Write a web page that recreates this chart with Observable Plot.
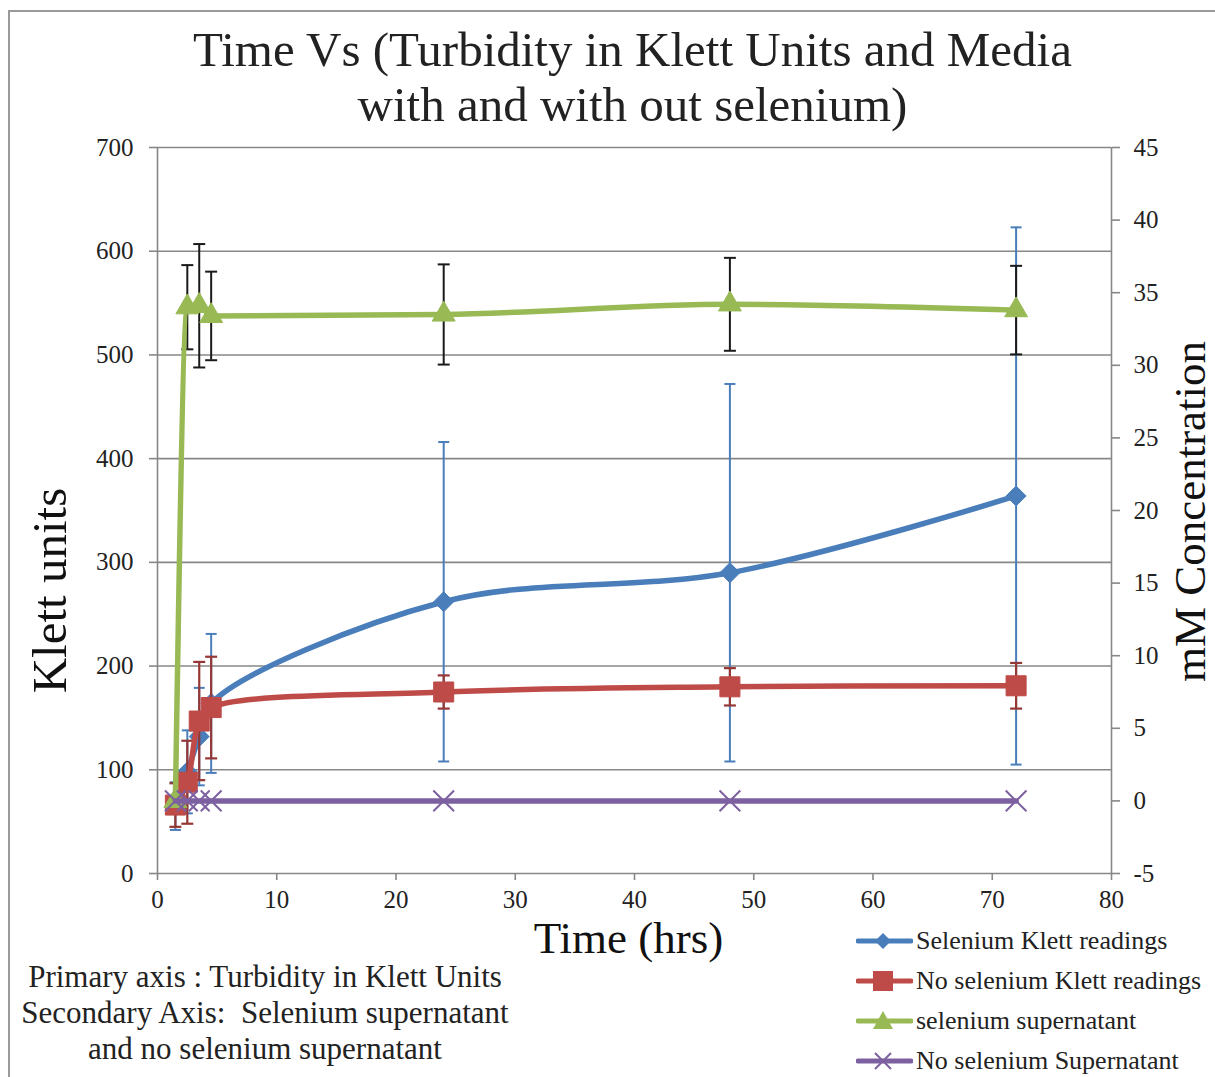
<!DOCTYPE html>
<html>
<head>
<meta charset="utf-8">
<script src="https://cdn.jsdelivr.net/npm/d3@7"></script>
<script src="https://cdn.jsdelivr.net/npm/@observablehq/plot@0.6"></script>
<style>
  html, body { margin: 0; padding: 0; background: #fff; }
  #wrap { position: relative; width: 1215px; height: 1077px; overflow: hidden; background: #fff;
          font-family: "Liberation Serif", "Times New Roman", serif; color: #222; }
  #frame { position: absolute; left: 8px; top: 10px; width: 1300px; height: 1200px;
           border-top: 2px solid #9a9a9a; border-left: 2px solid #9a9a9a; box-sizing: border-box; }
  #title { position: absolute; left: 30px; width: 1205px; top: 22px; text-align: center;
           font-size: 49px; line-height: 55px; }
  #chart { position: absolute; left: 0; top: 128px; }
  #caption { position: absolute; left: 0px; width: 530px; top: 959px; text-align: center;
             font-size: 31px; line-height: 36px; white-space: nowrap; }
  #legend { position: absolute; left: 856px; top: 921px; font-size: 26px; }
  #legend .row { height: 40px; display: flex; align-items: center; white-space: nowrap; }
  #legend svg { margin-right: 3px; }
</style>
</head>
<body>
<div id="wrap">
  <div id="frame"></div>
  <div id="title">Time Vs (Turbidity in Klett Units and Media<br>with and with out selenium)</div>
  <div id="chart"></div>
  <div id="caption">Primary axis : Turbidity in Klett Units<br>Secondary Axis:&nbsp; Selenium supernatant<br>and no selenium supernatant</div>
  <div id="legend"></div>
</div>
<script>
// ---- data ----
const times = [1.5, 2.5, 3.5, 4.5, 24, 48, 72];
// primary axis: Klett units
const seleniumKlett = [65, 98, 132, 164, 262, 290, 364];
const seleniumKlettErr = [23, 40, 47, 67, 154, 182, 259];
const noSeleniumKlett = [66, 88, 147, 160, 175, 180, 181];
const noSeleniumKlettErr = [21, 40, 57, 49, 16, 18, 22];
// secondary axis: mM concentration
const seleniumSuper = [0, 34.0, 34.1, 33.4, 33.5, 34.2, 33.8];
const seleniumSuperErr = [0, 2.9, 4.25, 3.05, 3.45, 3.2, 3.05];
const noSeleniumSuper = [0, 0, 0, 0, 0, 0, 0];

const xTicks = [0, 10, 20, 30, 40, 50, 60, 70, 80];
const leftTicks = [0, 100, 200, 300, 400, 500, 600, 700];
const rightTicks = [-5, 0, 5, 10, 15, 20, 25, 30, 35, 40, 45];

const seriesNames = ["Selenium Klett readings", "No selenium Klett readings", "selenium supernatant", "No selenium Supernatant"];
const colors = ["#4A7EBB", "#BE4B48", "#98B954", "#7D60A0"];
const errColors = ["#4A7EBB", "#953735", "#1a1a1a"];

// secondary axis [-5,45] mapped onto primary [0,700]
const toLeft = v => (v + 5) * 14;

const rows = (vals, errs, secondary) => times.map((t, i) => {
  const f = secondary ? toLeft : (v => v);
  const e = errs ? errs[i] : 0;
  return {t, y: f(vals[i]), lo: f(vals[i] - e), hi: f(vals[i] + e), e};
});
const blue = rows(seleniumKlett, seleniumKlettErr, false);
const red = rows(noSeleniumKlett, noSeleniumKlettErr, false);
const green = rows(seleniumSuper, seleniumSuperErr, true);
const purple = rows(noSeleniumSuper, null, true);

const cap = hw => ({draw(ctx) { ctx.moveTo(-hw, 0); ctx.lineTo(hw, 0); }});

function errMarks(data, color, width, hw) {
  const d = data.filter(r => r.e > 0);
  return [
    Plot.ruleX(d, {x: "t", y1: "lo", y2: "hi", stroke: color, strokeWidth: width}),
    Plot.dot(d, {x: "t", y: "hi", symbol: cap(hw), r: 4, stroke: color, strokeWidth: width}),
    Plot.dot(d, {x: "t", y: "lo", symbol: cap(hw), r: 4, stroke: color, strokeWidth: width})
  ];
}
const lineOpts = (c, curve) => ({x: "t", y: "y", stroke: c, strokeWidth: 5.5, curve: curve || "catmull-rom"});

const gray = "#878787";
const chart = Plot.plot({
  width: 1215,
  height: 949,
  marginTop: 19,
  marginBottom: 204,
  marginLeft: 157,
  marginRight: 104,
  x: {domain: [0, 80]},
  y: {domain: [0, 700]},
  style: {fontFamily: "'Liberation Serif', 'Times New Roman', serif", fontSize: "25px", color: "#222", background: "transparent"},
  marks: [
    Plot.gridY(leftTicks, {stroke: gray, strokeOpacity: 1, strokeWidth: 1.6}),
    Plot.ruleX([0, 80], {stroke: gray, strokeWidth: 1.6}),
    Plot.axisY({ticks: leftTicks, tickSize: 8, tickPadding: 16, stroke: gray, strokeWidth: 1.6, strokeOpacity: 1, label: null, fontSize: 25}),
    Plot.axisY({anchor: "right", ticks: rightTicks.map(toLeft), tickFormat: d => String(Math.round(d / 14 - 5)),
                tickSize: 8, tickPadding: 14, stroke: gray, strokeWidth: 1.6, strokeOpacity: 1, label: null, fontSize: 25}),
    Plot.axisX({ticks: xTicks, tickSize: 7, tickPadding: 10, stroke: gray, strokeWidth: 1.6, strokeOpacity: 1, label: null, fontSize: 25}),
    Plot.text(["Klett units"], {frameAnchor: "left", textAnchor: "middle", lineAnchor: "middle", rotate: -90, dx: -107, dy: 80, fontSize: 49, fill: "#111"}),
    Plot.text(["mM Concentration"], {frameAnchor: "right", textAnchor: "middle", lineAnchor: "middle", rotate: -90, dx: 79, dy: 1, fontSize: 45, fill: "#111"}),
    Plot.text(["Time (hrs)"], {frameAnchor: "bottom", textAnchor: "middle", lineAnchor: "middle", dx: -6, dy: 65, fontSize: 45, fill: "#111"}),
    // Selenium Klett readings
    ...errMarks(blue, errColors[0], 2, 5.5),
    Plot.line(blue, lineOpts(colors[0])),
    Plot.dot(blue, {x: "t", y: "y", symbol: "diamond2", r: 9, fill: colors[0], stroke: colors[0], strokeWidth: 1}),
    // No selenium Klett readings
    ...errMarks(red, errColors[1], 2.2, 6),
    Plot.line(red, lineOpts(colors[1])),
    Plot.dot(red, {x: "t", y: "y", symbol: "square", r: 11.3, fill: colors[1], stroke: colors[1], strokeWidth: 1}),
    // selenium supernatant (secondary)
    ...errMarks(green, errColors[2], 2, 6),
    Plot.line(green, lineOpts(colors[2], "monotone-x")),
    Plot.dot(green, {x: "t", y: "y", symbol: "triangle", r: 8.5, fill: colors[2], stroke: colors[2], strokeWidth: 1}),
    // No selenium Supernatant (secondary)
    Plot.line(purple, lineOpts(colors[3])),
    Plot.dot(purple, {x: "t", y: "y", symbol: "times", r: 9.5, stroke: colors[3], strokeWidth: 2})
  ]
});
document.getElementById("chart").appendChild(chart);

// legend
const markerPaths = [
  '<path d="M27,3 L35,11 L27,19 L19,11 Z" fill="' + colors[0] + '"/>',
  '<rect x="17" y="1" width="20" height="20" fill="' + colors[1] + '"/>',
  '<path d="M27,1 L37,19 L17,19 Z" fill="' + colors[2] + '"/>',
  '<path d="M19,3 L35,19 M19,19 L35,3" stroke="' + colors[3] + '" stroke-width="2" fill="none"/>'
];
const legend = document.getElementById("legend");
seriesNames.forEach((name, i) => {
  const row = document.createElement("div");
  row.className = "row";
  row.innerHTML = '<svg width="57" height="22" viewBox="0 0 57 22"><line x1="2" y1="11" x2="55" y2="11" stroke="' + colors[i] +
    '" stroke-width="5" stroke-linecap="round"/>' + markerPaths[i] + '</svg><span>' + name + '</span>';
  legend.appendChild(row);
});
</script>
</body>
</html>
